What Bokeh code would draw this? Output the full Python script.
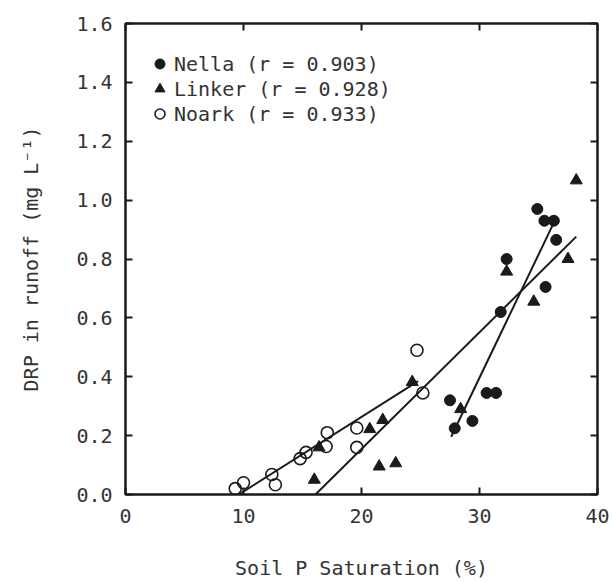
from bokeh.plotting import figure
from bokeh.models import (Range1d, LinearAxis, Legend, LegendItem, FixedTicker,
                          PrintfTickFormatter, CustomJSTickFormatter)
from bokeh.embed import file_html
from bokeh.resources import INLINE

# ---- data ----
nella_x = [27.5, 27.9, 29.4, 30.6, 31.4, 31.8, 32.3, 34.9, 35.5, 36.3, 36.5, 35.6]
nella_y = [0.32, 0.225, 0.25, 0.345, 0.345, 0.62, 0.80, 0.97, 0.93, 0.93, 0.865, 0.705]

linker_x = [16.0, 16.4, 20.7, 21.8, 21.5, 22.9, 24.3, 28.4, 32.3, 34.6, 37.5, 38.2]
linker_y = [0.05, 0.16, 0.222, 0.253, 0.095, 0.106, 0.382, 0.29, 0.757, 0.655, 0.80, 1.067]

noark_x = [9.3, 10.0, 12.4, 12.7, 14.8, 15.3, 17.0, 17.1, 19.6, 19.6, 24.7, 25.2]
noark_y = [0.02, 0.04, 0.068, 0.033, 0.122, 0.143, 0.163, 0.21, 0.226, 0.16, 0.49, 0.345]

# regression line end points
nella_fit_x = [27.6, 36.2]
nella_fit_y = [0.196, 0.915]
linker_fit_x = [16.1, 38.2]
linker_fit_y = [0.0, 0.876]
noark_fit_x = [9.6, 24.8]
noark_fit_y = [0.0, 0.385]

legend_labels = ["Nella (r = 0.903)", "Linker (r = 0.928)", "Noark (r = 0.933)"]

x_ticks = [0, 10, 20, 30, 40]
y_ticks = [0.0, 0.2, 0.4, 0.6, 0.8, 1.0, 1.2, 1.4, 1.6]

FONT = "DejaVu Sans Mono"
TXT = "#333333"
INK = "#1a1a1a"

p = figure(width=613, height=582, output_backend="svg", toolbar_location=None,
           x_range=Range1d(0, 40), y_range=Range1d(0, 1.6),
           min_border_left=125, min_border_right=16, min_border_top=23,
           min_border_bottom=88,
           x_axis_label="Soil P Saturation (%)",
           y_axis_label="DRP in runoff (mg L\u207b\u00b9)")
p.grid.visible = False
p.outline_line_color = INK
p.outline_line_width = 2
p.background_fill_color = "white"
p.border_fill_color = "white"

p.xaxis.ticker = FixedTicker(ticks=x_ticks)
p.yaxis.ticker = FixedTicker(ticks=y_ticks)
p.yaxis.formatter = PrintfTickFormatter(format="%.1f")

for ax in (p.xaxis[0], p.yaxis[0]):
    ax.axis_line_width = 2
    ax.axis_line_color = INK
    ax.major_tick_line_width = 2
    ax.major_tick_line_color = INK
    ax.major_tick_in = 7
    ax.major_tick_out = 0
    ax.minor_tick_line_color = None
    ax.major_label_text_font = FONT
    ax.major_label_text_font_size = "20px"
    ax.major_label_text_color = TXT
    ax.axis_label_text_font = FONT
    ax.axis_label_text_font_size = "20px"
    ax.axis_label_text_font_style = "normal"
    ax.axis_label_text_color = TXT
p.xaxis.major_label_standoff = 14
p.yaxis.major_label_standoff = 13
p.xaxis.axis_label_standoff = 30
p.yaxis.axis_label_standoff = 30

blank = CustomJSTickFormatter(code="return ''")
top = LinearAxis(ticker=FixedTicker(ticks=x_ticks), formatter=blank)
right = LinearAxis(ticker=FixedTicker(ticks=y_ticks), formatter=blank)
for ax in (top, right):
    ax.axis_line_width = 2
    ax.axis_line_color = INK
    ax.major_tick_line_width = 2
    ax.major_tick_line_color = INK
    ax.major_tick_in = 7
    ax.major_tick_out = 0
    ax.minor_tick_line_color = None
    ax.major_label_text_font_size = "1px"
    ax.major_label_standoff = 0
p.add_layout(top, "above")
p.add_layout(right, "right")

# regression lines
p.line(nella_fit_x, nella_fit_y, line_color=INK, line_width=2)
p.line(linker_fit_x, linker_fit_y, line_color=INK, line_width=2)
p.line(noark_fit_x, noark_fit_y, line_color=INK, line_width=2)

r_n = p.scatter(nella_x, nella_y, marker="circle", size=11,
                fill_color=INK, line_color=INK)
r_l = p.scatter(linker_x, linker_y, marker="triangle", size=12,
                fill_color=INK, line_color=INK)
r_o = p.scatter(noark_x, noark_y, marker="circle", size=12,
                fill_color=None, line_color=INK, line_width=1.6)

legend = Legend(items=[LegendItem(label=legend_labels[0], renderers=[r_n]),
                       LegendItem(label=legend_labels[1], renderers=[r_l]),
                       LegendItem(label=legend_labels[2], renderers=[r_o])],
                location=(22, 368), orientation="vertical",
                glyph_width=25, glyph_height=25, label_height=25,
                label_standoff=2, padding=0, spacing=0, margin=0,
                border_line_color=None, background_fill_alpha=0,
                label_text_font=FONT, label_text_font_size="20px",
                label_text_color=TXT)
p.add_layout(legend)

open("out.html", "w").write(file_html(p, INLINE))
